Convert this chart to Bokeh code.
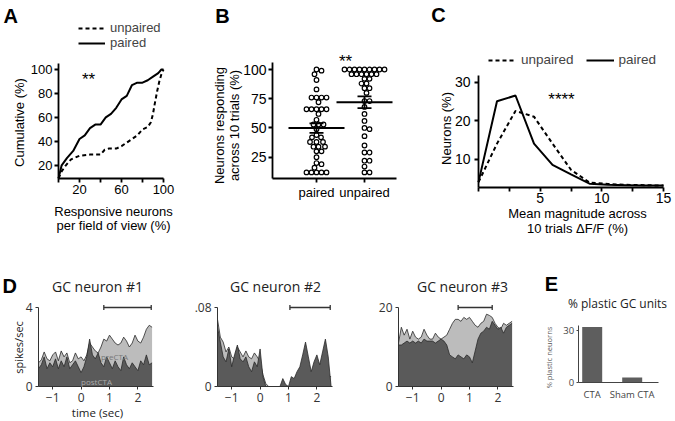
import numpy as np
from bokeh.plotting import figure
from bokeh.layouts import row, column
from bokeh.models import Label, FixedTicker, Range1d, Legend, LegendItem
from bokeh.embed import file_html
from bokeh.resources import INLINE

ARIAL = "Liberation Sans"
MYR = "Open Sans"

# ---------------- data ----------------
# A: cumulative distribution (%)
a_paired_x = [0, 3, 8, 14, 20, 25, 30, 35, 40, 45, 50, 55, 60, 65, 70, 75, 80, 85, 90, 95, 98, 100]
a_paired_y = [9, 20, 26, 32, 42, 45, 51, 54, 54, 60, 63, 68, 75, 78, 87, 89, 89, 91, 94, 97, 100, 100]
a_unpaired_x = [0, 3, 7, 12, 20, 30, 40, 44, 48, 55, 60, 65, 70, 75, 80, 85, 88, 90, 92, 94, 96, 98, 100]
a_unpaired_y = [9, 15, 20, 25, 28, 29, 29, 33, 34, 34, 36, 39, 42, 45, 50, 52, 56, 63, 73, 82, 90, 96, 100]

# B: neurons responding across 10 trials (%)
b_groups = ["paired", "unpaired"]
b_paired = [100, 99, 96, 91, 83, 76, 76, 76, 76, 72, 66, 66, 66, 66, 66, 62, 57, 53, 53, 53, 49,
            44, 42, 42, 38, 38, 38, 34, 34, 34, 30, 30, 25, 20, 19, 16, 12, 12, 12, 12, 12]
b_unpaired = [100, 100, 100, 100, 100, 100, 100, 100, 100, 96, 96, 96, 96, 96, 96, 92, 92, 88, 88,
              84, 84, 80, 73, 73, 68, 62, 56, 50, 49, 43, 35, 29, 29, 22, 22, 17, 12, 12]

# C: distribution of mean magnitude
c_x = [0, 1.5, 3, 4.5, 6, 7.5, 9, 10.5, 12, 13.5, 15]
c_paired = [4, 25, 26.5, 14, 8.5, 6, 3.6, 3.3, 3.2, 3.1, 3.1]
c_unpaired = [4, 14, 22.5, 21, 14, 7.2, 3.9, 3.5, 3.3, 3.2, 3.1]

# D: PSTHs (time in sec)
d_time = [round(-1.5 + 0.1 * i, 1) for i in range(41)]
d1_pre = [1.2, 1.35, 1.75, 1.4, 1.3, 1.6, 1.75, 1.3, 1.8, 1.5, 1.7, 1.2, 1.3, 1.7, 1.4, 1.5, 1.3, 1.6,
          2.2, 2.0, 1.8, 1.7, 2.0, 2.4, 2.3, 2.6, 2.4, 2.2, 2.1, 2.2, 2.5, 2.3, 2.0, 2.2, 2.6, 2.3,
          2.2, 2.5, 2.9, 3.1, 3.0]
d1_post = [0.9, 1.1, 1.5, 0.9, 1.2, 1.0, 1.4, 0.9, 1.3, 1.0, 1.5, 0.9, 1.1, 1.3, 1.0, 0.7, 1.0, 1.5,
           2.4, 1.6, 1.4, 1.7, 1.2, 1.0, 1.5, 1.2, 0.9, 1.3, 1.0, 0.8, 1.5, 1.1, 0.9, 1.2, 1.0, 0.8,
           1.3, 1.1, 1.6, 1.1, 1.2]
d2_pre = [0.068, 0.05, 0.045, 0.035, 0.04, 0.03, 0.028, 0.04, 0.035, 0.03, 0.036, 0.03, 0.028, 0.034,
          0.03, 0.025, 0.012, 0.003, 0, 0, 0, 0, 0, 0, 0, 0, 0, 0, 0, 0, 0, 0, 0, 0, 0, 0, 0, 0, 0,
          0.01, 0.01]
d2_post = [0.06, 0.045, 0.03, 0.025, 0.038, 0.02, 0.032, 0.042, 0.028, 0.025, 0.03, 0.02, 0.015, 0.025,
           0.02, 0.038, 0.01, 0, 0, 0, 0, 0, 0, 0.008, 0.002, 0, 0.01, 0.008, 0.015, 0.02, 0.032,
           0.045, 0.03, 0.015, 0.025, 0.032, 0.022, 0.035, 0.048, 0.03, 0.0]
d3_pre = [11, 15, 13, 14.5, 12, 14, 12.5, 12, 12.5, 14.5, 13, 12, 12, 13.5, 12.5, 12, 12.5, 13, 14.5,
          16, 17, 17, 16.5, 17.5, 17, 17.5, 16.5, 15.5, 15, 16, 16.5, 18.3, 18, 17.5, 16, 15, 14.5,
          16, 15.5, 16, 16.5]
d3_post = [10.5, 10.5, 11, 11.5, 11, 11.5, 11, 11.5, 11, 12, 11.5, 11.5, 11.5, 11, 11.5, 12, 11.5,
           10.5, 8, 7.5, 7, 8, 7.5, 7, 8, 7.5, 6, 9, 12, 13.5, 14, 15, 14.5, 16.5, 15.5, 14.5, 15,
           13.5, 15, 15.5, 16]
d_titles = ["GC neuron #1", "GC neuron #2", "GC neuron #3"]
d_ymax = [4, 0.08, 20]
d_ylabels = ["4", ".08", "20"]
d_windows = [(0.8, 2.47), (1.05, 2.47), (0.6, 1.8)]
d_xticks = [-1, 0, 1, 2]

# E: % plastic GC units
e_groups = ["CTA", "Sham CTA"]
e_values = [32, 3]
e_yticks = [0, 30]

LIGHT = "#bcbcbc"
DARK = "#5a5a5a"


# ---------------- helpers ----------------
def xr_map(v1, p1, v2, p2, start, size):
    k = (p2 - p1) / (v2 - v1)
    return (v1 + (start - p1) / k, v1 + (start + size - p1) / k)


def yr_map(v1, p1, v2, p2, start, size):
    k = (p2 - p1) / (v2 - v1)
    return (v1 + (start + size - p1) / k, v1 + (start - p1) / k)


class Panel:
    def __init__(self, left, top, w, h, xmap, ymap):
        self.left, self.top, self.w, self.h = left, top, w, h
        xr = xr_map(*xmap, left, w)
        yr = yr_map(*ymap, top, h)
        self.p = figure(width=w, height=h, title=None, x_range=Range1d(*xr), y_range=Range1d(*yr),
                        output_backend="svg", toolbar_location=None,
                        min_border_left=0, min_border_right=0, min_border_top=0,
                        min_border_bottom=0)
        self.p.grid.visible = False
        self.p.outline_line_color = None

    def put(self, x, y, text, size, font=ARIAL, color="black", style="normal", angle=0.0,
            align="center", baseline="middle"):
        self.p.add_layout(Label(x=x - self.left, y=self.top + self.h - y, x_units="screen",
                                y_units="screen", text=text, text_font=font,
                                text_font_size=f"{size}px", text_color=color,
                                text_font_style=style, angle=angle, text_align=align,
                                text_baseline=baseline))

    def loc(self, x, y):
        return (x - self.left, self.top + self.h - y)


def style_axis(ax, font, size, lw=1.8, color="black", tick_out=4, standoff=2):
    ax.axis_line_width = lw
    ax.axis_line_color = color
    ax.major_tick_line_width = lw
    ax.major_tick_line_color = color
    ax.major_tick_out = tick_out
    ax.major_tick_in = 0
    ax.minor_tick_line_width = lw
    ax.minor_tick_line_color = color
    ax.minor_tick_out = tick_out
    ax.minor_tick_in = 0
    ax.major_label_text_font = font
    ax.major_label_text_font_size = f"{size}px"
    ax.major_label_text_color = color
    ax.major_label_standoff = standoff


def swarm(vals, center, ppx, ppy, d=5.0, step=0.5):
    order = sorted(range(len(vals)), key=lambda i: -vals[i])
    placed = []
    xs = [0.0] * len(vals)
    for i in order:
        yy = vals[i] * ppy
        k = 0
        found = None
        while found is None:
            cands = [0.0] if k == 0 else [k * step, -k * step]
            for off in cands:
                if all((off - ox) ** 2 + (yy - oy) ** 2 >= d * d for ox, oy in placed):
                    found = off
                    break
            k += 1
        placed.append((found, yy))
        xs[i] = center + found / ppx
    return xs


TOP_H = 240
BOT_H = 181

# ---------------- Panel A ----------------
A = Panel(0, 0, 175, TOP_H, (0, 58, 100, 163), (105, 63, 9, 178))
pa = A.p
ra_u = pa.line(a_unpaired_x, a_unpaired_y, line_width=2, line_dash="4 3", color="black")
ra_p = pa.line(a_paired_x, a_paired_y, line_width=2, color="black")
style_axis(pa.xaxis[0], ARIAL, 13, tick_out=4, standoff=2)
style_axis(pa.yaxis[0], ARIAL, 13, tick_out=4, standoff=2)
pa.xaxis.fixed_location = 9
pa.xaxis.bounds = (0, 100)
pa.yaxis.fixed_location = 0
pa.yaxis.bounds = (9, 105)
pa.xaxis.ticker = FixedTicker(ticks=[20, 60, 100], minor_ticks=[0, 40, 80])
pa.yaxis.ticker = FixedTicker(ticks=[20, 40, 60, 80, 100])
legA = Legend(items=[LegendItem(label="unpaired", renderers=[ra_u]),
                     LegendItem(label="paired", renderers=[ra_p])],
              location=A.loc(78, 50), orientation="vertical", padding=0, margin=0, spacing=0,
              glyph_width=27, glyph_height=14, label_height=14, label_standoff=5,
              label_text_font=ARIAL, label_text_font_size="13px",
              background_fill_alpha=0, border_line_color=None)
pa.add_layout(legA)
A.put(3, 15, "A", 20, style="bold", align="left")
A.put(88, 70 + 9, "**", 17, baseline="alphabetic")
A.put(19, 122, "Cumulative (%)", 13, angle=np.pi / 2)
A.put(113, 211, "Responsive neurons", 13)
A.put(113, 225, "per field of view (%)", 13)

# ---------------- Panel B ----------------
B_PAIRED_PX = 316
B_UNPAIRED_PX = 364
ppx_b = B_UNPAIRED_PX - B_PAIRED_PX
B = Panel(175, 0, 225, TOP_H, (1, B_PAIRED_PX, 2, B_UNPAIRED_PX), (100, 69, 25, 156.7))
pb = B.p
ppy_b = (156.7 - 69) / 75
for gi, vals in enumerate([b_paired, b_unpaired]):
    cx = gi + 1
    xs = swarm(vals, cx, ppx_b, ppy_b, d=5.0)
    pb.scatter(xs, vals, marker="circle", size=4.6, fill_color="white", line_color="black",
               line_width=1.2)
    m = float(np.mean(vals))
    sem = float(np.std(vals, ddof=1) / np.sqrt(len(vals)))
    pb.segment(x0=[cx - 28 / ppx_b], x1=[cx + 28 / ppx_b], y0=[m], y1=[m], line_color="black",
               line_width=2)
    pb.segment(x0=[cx], x1=[cx], y0=[m - sem], y1=[m + sem], line_color="black", line_width=1.8)
    pb.segment(x0=[cx - 7 / ppx_b] * 2, x1=[cx + 7 / ppx_b] * 2, y0=[m - sem, m + sem],
               y1=[m - sem, m + sem], line_color="black", line_width=1.8)
style_axis(pb.xaxis[0], ARIAL, 13, tick_out=4, standoff=3)
style_axis(pb.yaxis[0], ARIAL, 14, tick_out=4, standoff=2)
b_left = 1 - (B_PAIRED_PX - 272) / ppx_b
b_right = 2 + (396 - B_UNPAIRED_PX) / ppx_b
pb.xaxis.fixed_location = 7
pb.xaxis.bounds = (b_left, b_right)
pb.yaxis.fixed_location = b_left
pb.yaxis.bounds = (7, 106)
pb.xaxis.ticker = FixedTicker(ticks=[1, 2])
pb.xaxis.major_label_overrides = {1: b_groups[0], 2: b_groups[1]}
pb.yaxis.ticker = FixedTicker(ticks=[25, 50, 75, 100])
B.put(222, 15, "B", 20, style="bold")
B.put(345, 51 + 10, "**", 17, baseline="alphabetic")
B.put(219, 125, "Neurons responding", 13, angle=np.pi / 2)
B.put(234, 125, "across 10 trials (%)", 13, angle=np.pi / 2)

# ---------------- Panel C ----------------
C = Panel(400, 0, 275, TOP_H, (0, 478, 15, 663), (31.7, 75, 2.6, 187))
pc = C.p
rc_u = pc.line(c_x, c_unpaired, line_width=2, line_dash="4 3", color="black")
rc_p = pc.line(c_x, c_paired, line_width=2, color="black")
style_axis(pc.xaxis[0], ARIAL, 14, tick_out=4, standoff=1)
style_axis(pc.yaxis[0], ARIAL, 14, tick_out=4, standoff=4)
pc.xaxis.fixed_location = 2.6
pc.xaxis.bounds = (0, 15)
pc.yaxis.fixed_location = 0
pc.yaxis.bounds = (2.6, 31.7)
pc.xaxis.ticker = FixedTicker(ticks=[5, 10, 15], minor_ticks=[0, 2.5, 7.5, 12.5])
pc.yaxis.ticker = FixedTicker(ticks=[10, 20, 30])
legC = Legend(items=[LegendItem(label="unpaired", renderers=[rc_u]),
                     LegendItem(label="paired", renderers=[rc_p])],
              location=C.loc(488, 67), orientation="horizontal", padding=0, margin=0, spacing=12,
              glyph_width=28, glyph_height=14, label_height=14, label_standoff=5,
              label_text_font=ARIAL, label_text_font_size="13.5px",
              background_fill_alpha=0, border_line_color=None)
pc.add_layout(legC)
C.put(438, 14, "C", 20, style="bold")
C.put(561, 89 + 10, "****", 17, baseline="alphabetic")
C.put(446, 128, "Neurons (%)", 13, angle=np.pi / 2)
C.put(577, 213, "Mean magnitude across", 13)
C.put(577, 228, "10 trials \u0394F/F (%)", 13)

# ---------------- Panel D ----------------
d_specs = [(0, 182, 38), (182, 163, 217), (345, 175, 398)]
d_series = [(d1_pre, d1_post), (d2_pre, d2_post), (d3_pre, d3_post)]
d_title_x = [97, 275, 462]
d_panels = []
for i in range(3):
    fleft, w, ax_x = d_specs[i]
    ymax = d_ymax[i]
    D = Panel(fleft, TOP_H, w, BOT_H, (-1.5, ax_x, 2.55, ax_x + 115), (ymax, 307, 0, 386))
    p = D.p
    pre, post = d_series[i]
    p.varea(x=d_time, y1=0, y2=pre, fill_color=LIGHT)
    p.line(d_time, pre, color="#2a2a2a", line_width=0.8)
    p.varea(x=d_time, y1=0, y2=post, fill_color=DARK)
    p.line(d_time, post, color="#2a2a2a", line_width=0.8)
    w0, w1 = d_windows[i]
    cap = 2.5 * ymax / 79
    p.segment(x0=[w0], x1=[w1], y0=[ymax], y1=[ymax], line_color="#333", line_width=1.3)
    p.segment(x0=[w0, w1], x1=[w0, w1], y0=[ymax - cap] * 2, y1=[ymax + cap] * 2,
              line_color="#333", line_width=1.3)
    style_axis(p.xaxis[0], MYR, 12, lw=1, color="#333", tick_out=3, standoff=3)
    style_axis(p.yaxis[0], MYR, 12, lw=1, color="#333", tick_out=3, standoff=3)
    p.xaxis.fixed_location = 0
    p.xaxis.bounds = (-1.5, 2.55)
    p.yaxis.fixed_location = -1.5
    p.yaxis.bounds = (0, ymax)
    p.xaxis.ticker = FixedTicker(ticks=d_xticks)
    p.yaxis.ticker = FixedTicker(ticks=[0, ymax])
    p.yaxis.major_label_overrides = {0: "0", ymax: d_ylabels[i]}
    D.put(d_title_x[i], 286, d_titles[i], 14, font=MYR, color="#222")
    if i == 0:
        D.put(2, 285.5, "D", 20, style="bold", align="left")
        D.put(18, 347, "spikes/sec", 11, font=MYR, color="#222", angle=np.pi / 2)
        D.put(97, 412, "time (sec)", 11.5, font=MYR, color="#222")
        D.put(114, 356, "preCTA", 8, font=MYR, color="#777")
        D.put(96, 381, "postCTA", 8, font=MYR, color="#aaa")
    d_panels.append(D)

# ---------------- Panel E ----------------
E = Panel(520, TOP_H, 155, BOT_H, (0, 591.7, 1, 631.7), (30, 330, 0, 382.3))
pe = E.p
pe.vbar(x=[0, 1], top=e_values, width=0.5, fill_color="#5e5e5e", line_color=None)
style_axis(pe.xaxis[0], MYR, 9.5, lw=1, color="#444", tick_out=0, standoff=5)
style_axis(pe.yaxis[0], MYR, 9.5, lw=1, color="#444", tick_out=2, standoff=2)
pe.xaxis.fixed_location = 0
pe.xaxis.bounds = (-0.35, 1.66)
pe.yaxis.fixed_location = -0.35
pe.yaxis.bounds = (0, 32.7)
pe.xaxis.ticker = FixedTicker(ticks=[0, 1])
pe.xaxis.major_label_overrides = {0: e_groups[0], 1: e_groups[1]}
pe.yaxis.ticker = FixedTicker(ticks=e_yticks)
E.put(551, 283, "E", 20, style="bold")
E.put(617, 303, "% plastic GC units", 12, font=MYR, color="#222")
E.put(548, 357, "% plastic neuorns", 7.5, font=MYR, color="#555", angle=np.pi / 2)

layout = column(row(A.p, B.p, C.p), row(d_panels[0].p, d_panels[1].p, d_panels[2].p, E.p))
open("out.html", "w").write(file_html(layout, INLINE))
